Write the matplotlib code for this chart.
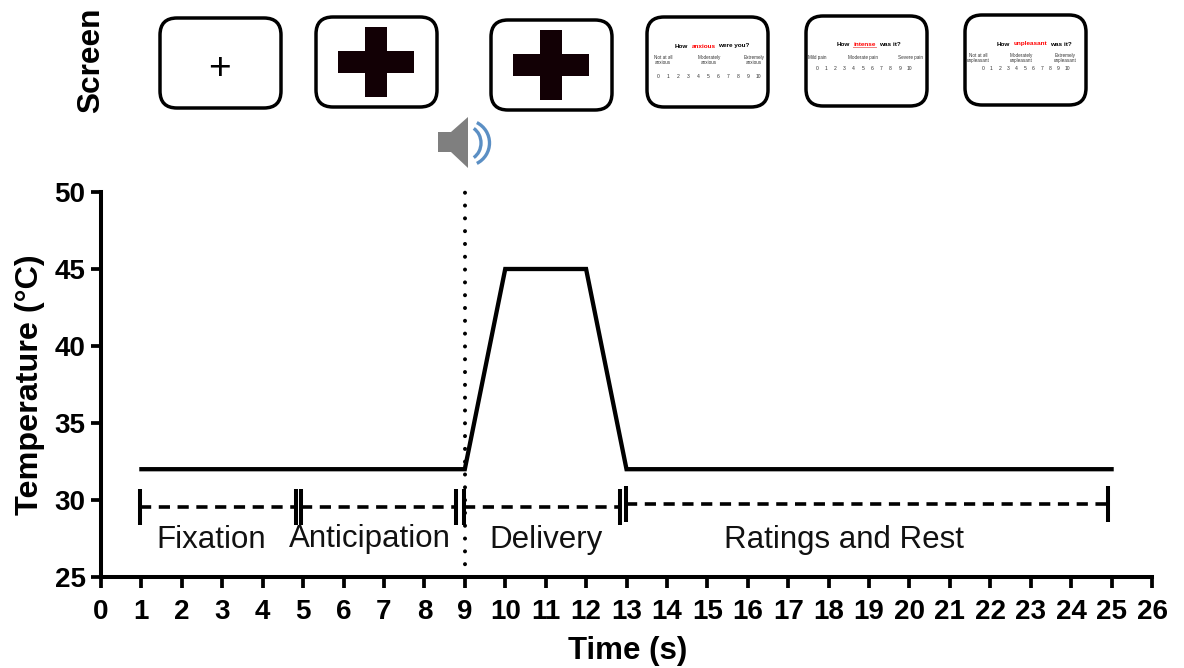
import matplotlib
matplotlib.use("Agg")
import matplotlib.pyplot as plt
from matplotlib.patches import FancyBboxPatch, Polygon, Arc, Rectangle

plt.rcParams['font.family'] = ['Liberation Sans', 'DejaVu Sans']

W, H = 1184, 668

# temperature trace
time_s = [1, 9, 10, 12, 13, 25]
temp_c = [32, 32, 45, 45, 32, 32]

# phases of a trial
phase_names = ["Fixation", "Anticipation", "Delivery", "Ratings and Rest"]
phase_start = [0.96, 4.95, 8.98, 12.99]
phase_end = [4.82, 8.78, 12.84, 24.91]
phase_y = [29.55, 29.55, 29.55, 29.74]
phase_label_x = [2.72, 6.66, 11.0, 18.38]
phase_label_y = [26.9, 26.95, 26.9, 26.9]
onset = 9

# screens along the top, in pixels
screen_left = [160, 316, 491, 647, 806, 965]
screen_top = [18, 17, 20, 17, 16, 15]
screen_w = 121
screen_h = 90

# rating screens
rating_idx = [3, 4, 5]
rating_q = [("How ", "anxious", " were you?"),
            ("How ", "intense", " was it?"),
            ("How ", "unpleasant", " was it?")]
rating_q_left = [675, 837, 997]
rating_q_y = [46, 44, 44]
rating_anchor = [["Not at all\nanxious", "Moderately\nanxious", "Extremely\nanxious"],
                 ["Mild pain", "Moderate pain", "Severe pain"],
                 ["Not at all\nunpleasant", "Moderately\nunpleasant", "Extremely\nunpleasant"]]
rating_anchor_x = [[663, 709, 754], [817, 863, 911], [978, 1021, 1065]]
rating_anchor_y = [60, 57, 58]
scale_vals = list(range(11))
scale_x0 = [658, 817, 983]
scale_dx = [10, 9.2, 8.4]
scale_y = [76, 68, 69]


def px_ax(x0, y0, x1, y1):
    return [x0 / W, 1 - y1 / H, (x1 - x0) / W, (y1 - y0) / H]


fig = plt.figure(figsize=(W / 100, H / 100), dpi=100)
ax = fig.add_axes(px_ax(101, 192, 1152, 577))

ax.plot(time_s, temp_c, color='black', lw=3.1, solid_joinstyle='miter', clip_on=False)
ax.axvline(onset, color='black', lw=2.9, ls=(0, (0.01, 3.17)), dash_capstyle='round', clip_on=False)

for name, a, b, y, lx, ly in zip(phase_names, phase_start, phase_end, phase_y, phase_label_x, phase_label_y):
    ax.plot([a, b], [y, y], color='black', lw=2.6, ls=(0, (3.1, 2.1)))
    ax.vlines([a, b], y - 1.17, y + 1.17, color='black', lw=2.9)
    ax.text(lx, ly, name, ha='center', va='baseline', fontsize=22.5, color='#111111')

ax.set_xlim(0, 26)
ax.set_ylim(25, 50)
ax.set_xticks(range(0, 27))
ax.set_yticks(range(25, 51, 5))
for s in ['top', 'right']:
    ax.spines[s].set_visible(False)
for s in ['left', 'bottom']:
    ax.spines[s].set_linewidth(2.9)
ax.tick_params(axis='x', length=8, width=2.7, labelsize=20, pad=8)
ax.tick_params(axis='y', length=7.5, width=2.7, labelsize=20, pad=3.6)
for lab in ax.get_xticklabels() + ax.get_yticklabels():
    lab.set_fontweight('bold')
ax.set_xlabel("Time (s)", fontsize=22.5, fontweight='bold')
ax.set_ylabel("Temperature (°C)", fontsize=23.3, fontweight='bold')
ax.xaxis.set_label_coords(0.5014, -0.153)
ax.yaxis.set_label_coords(-0.053, 0.5)

# overlay in pixel coordinates for the stimulus pictures
top = fig.add_axes([0, 0, 1, 1], facecolor='none')
top.set_xlim(0, W)
top.set_ylim(H, 0)
top.axis('off')

top.text(91, 60, "Screen", rotation=90, ha='center', va='center', fontsize=22.8, fontweight='bold')

for l, t in zip(screen_left, screen_top):
    top.add_patch(FancyBboxPatch((l + 17, t + 17), screen_w - 34, screen_h - 34,
                                 boxstyle="round,pad=17,rounding_size=17",
                                 fc='white', ec='black', lw=2.5))

top.text(219.5, 69, "+", ha='center', va='center', fontsize=28)

for i in (1, 2):
    cx = screen_left[i] + 60
    cy = screen_top[i] + 45
    top.add_patch(Rectangle((cx - 38, cy - 11), 76, 22, fc='#120005', ec='none'))
    top.add_patch(Rectangle((cx - 11, cy - 35), 22, 70, fc='#120005', ec='none'))

renderer = fig.canvas.get_renderer()
for n, q in enumerate(rating_q):
    # question is three runs of text, the middle one red
    x = rating_q_left[n]
    y = rating_q_y[n]
    for part, col in zip(q, ['black', 'red', 'black']):
        leading = len(part) - len(part.lstrip())
        t_obj = top.text(x, y, part.strip(), ha='left', va='center', fontsize=4.6,
                         fontweight='bold', color=col)
        if leading:
            x += 3
            t_obj.set_x(x)
        bb = t_obj.get_window_extent(renderer)
        if n == 1 and col == 'red':
            top.plot([x, x + bb.width], [y + 3, y + 3], color='#f08080', lw=0.7)
        x += bb.width + (3 if part.endswith(' ') else 0)
    for a, ax_px in zip(rating_anchor[n], rating_anchor_x[n]):
        top.text(ax_px, rating_anchor_y[n], a, ha='center', va='center', fontsize=3.3,
                 color='#333333', linespacing=1.0)
    for v in scale_vals:
        top.text(scale_x0[n] + v * scale_dx[n], scale_y[n], str(v), ha='center', va='center',
                 fontsize=3.6, color='#333333')

# speaker icon
top.add_patch(Polygon([(438, 132), (451, 132), (468, 117), (468, 168), (451, 152), (438, 152)],
                      closed=True, fc='#7f7f7f', ec='none'))
top.add_patch(Arc((466, 143), 30, 34, theta1=-62, theta2=62, ec='#5b8fc4', lw=2.4))
top.add_patch(Arc((466, 143), 47, 46, theta1=-62, theta2=62, ec='#5b8fc4', lw=2.4))

fig.savefig("out.png", dpi=100)
